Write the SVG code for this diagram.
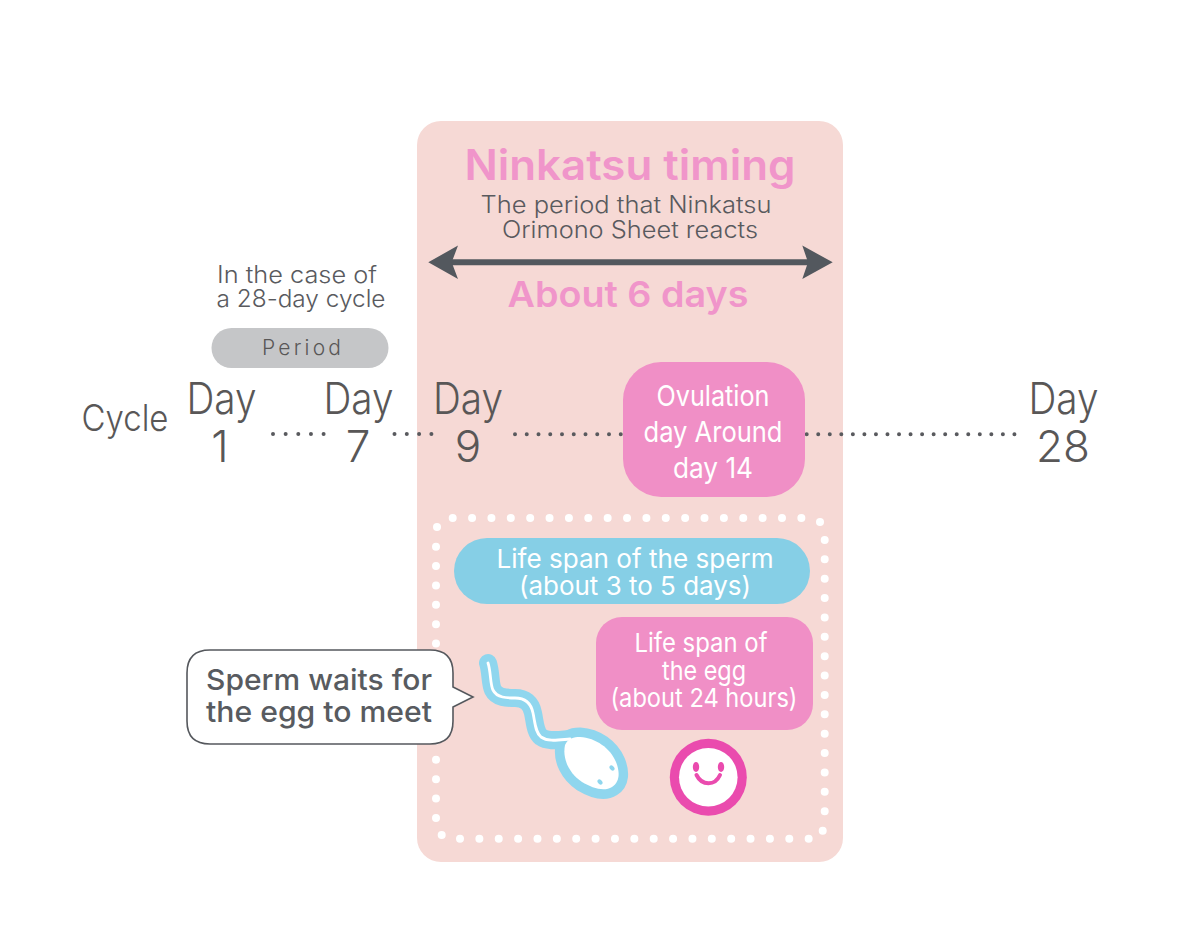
<svg xmlns="http://www.w3.org/2000/svg" width="1198" height="947" viewBox="0 0 1198 947">
<style>
text{font-family:Inter,"Noto Sans","Liberation Sans",sans-serif;text-anchor:middle}
.d{font-size:44px;fill:#595757;font-weight:300}
.g{font-size:23.500px;fill:#595a5e;font-weight:300}
.h{fill:#f095ca;font-weight:600}
.w{fill:#fff;font-size:29px;font-weight:400}
.s{fill:#fff;font-size:26px;font-weight:400}
.b{fill:#585b60;font-size:29px;font-weight:500}
.dots{fill:none;stroke:#595a5e;stroke-width:4;stroke-linecap:round}
.wd{fill:none;stroke:#fff;stroke-width:8;stroke-linecap:round;stroke-dasharray:0 19.37}
</style>
<rect width="1198" height="947" fill="#fff"/>
<g id="panel"><rect x="417" y="121" width="426" height="741" rx="24" fill="#f6d9d5"/></g>
<g id="title">
<text x="630" y="180" font-size="42" class="h" textLength="331" lengthAdjust="spacingAndGlyphs">Ninkatsu timing</text>
<text x="626" y="213" class="g" font-size="24" textLength="291" lengthAdjust="spacingAndGlyphs">The period that Ninkatsu</text>
<text x="630" y="238" class="g" font-size="24" textLength="256" lengthAdjust="spacingAndGlyphs">Orimono Sheet reacts</text>
<text x="628" y="307" font-size="36" class="h" textLength="241" lengthAdjust="spacingAndGlyphs">About 6 days</text>
</g>
<g id="connectors">
<path d="M448 262.300H812" stroke="#53585e" stroke-width="6" fill="none"/>
<path d="M428.300 262.300L458 245.500L451.700 262.300L458 279Z" fill="#53585e"/>
<path d="M832.700 262.300L802.300 245.500L808 262.300L802.300 279Z" fill="#53585e"/>
<path class="dots" stroke-dasharray="0 12.65" d="M273 434H325"/>
<path class="dots" stroke-dasharray="0 12.3" d="M394.500 434H432"/>
<path class="dots" stroke-dasharray="0 11.75" d="M515 434.300H626"/>
<path class="dots" stroke-dasharray="0 11.54" d="M806.700 434.300H1016"/>
</g>
<g id="case-note">
<text x="297" y="283" class="g" textLength="160" lengthAdjust="spacingAndGlyphs">In the case of</text>
<text x="301" y="307" class="g" textLength="169" lengthAdjust="spacingAndGlyphs">a 28-day cycle</text>
</g>
<g id="period"><rect x="211.500" y="328" width="177" height="40" rx="20" fill="#c5c6c8"/>
<text x="301.500" y="355" font-size="21" font-weight="300" fill="#595757" textLength="79" lengthAdjust="spacing">Period</text></g>
<g id="cycle"><text x="125" y="431" font-size="37" fill="#595757" font-weight="300" textLength="87" lengthAdjust="spacingAndGlyphs">Cycle</text></g>
<g id="day1"><text x="221.500" y="414" class="d" textLength="70" lengthAdjust="spacingAndGlyphs">Day</text><text x="220" y="462" class="d">1</text></g>
<g id="day7"><text x="358.500" y="414" class="d" textLength="70" lengthAdjust="spacingAndGlyphs">Day</text><text x="358" y="462" class="d">7</text></g>
<g id="day9"><text x="468" y="414" class="d" textLength="70" lengthAdjust="spacingAndGlyphs">Day</text><text x="468" y="462" class="d">9</text></g>
<g id="day28"><text x="1063.500" y="414" class="d" textLength="70" lengthAdjust="spacingAndGlyphs">Day</text><text x="1063" y="462" class="d">28</text></g>
<g id="ovulation"><rect x="623" y="362" width="182" height="135" rx="38" fill="#f08fc6"/>
<text x="713" y="406" class="w" textLength="113" lengthAdjust="spacingAndGlyphs">Ovulation</text>
<text x="713" y="442" class="w" textLength="139" lengthAdjust="spacingAndGlyphs">day Around</text>
<text x="713" y="478" class="w" textLength="80" lengthAdjust="spacingAndGlyphs">day 14</text></g>
<g id="dotted-frame">
<path class="wd" d="M452.700 518H805"/>
<path class="wd" d="M460 838.700H812"/>
<path class="wd" d="M436 546.700V820"/>
<path class="wd" d="M824.700 540V815"/>
<circle cx="437" cy="527" r="4" fill="#fff"/><circle cx="820" cy="522" r="4" fill="#fff"/><circle cx="822.700" cy="830.700" r="4" fill="#fff"/><circle cx="441.700" cy="835" r="4" fill="#fff"/>
</g>
<g id="sperm-span"><rect x="454" y="538" width="356" height="66" rx="33" fill="#86cfe6"/>
<text x="635" y="568" class="s" textLength="277" lengthAdjust="spacingAndGlyphs">Life span of the sperm</text>
<text x="635" y="595" class="s" textLength="232" lengthAdjust="spacingAndGlyphs">(about 3 to 5 days)</text></g>
<g id="egg-span"><rect x="596" y="617" width="217" height="113" rx="26" fill="#f08fc6"/>
<text x="701" y="652" class="s" textLength="133" lengthAdjust="spacingAndGlyphs">Life span of</text>
<text x="704" y="680" class="s" textLength="84" lengthAdjust="spacingAndGlyphs">the egg</text>
<text x="704" y="707" class="s" textLength="187" lengthAdjust="spacingAndGlyphs">(about 24 hours)</text></g>
<g id="callout"><path d="M210 650H430Q453 650 453 673V687L473 697L453 707V721Q453 744 430 744H210Q187 744 187 721V673Q187 650 210 650Z" fill="#fff" stroke="#55585d" stroke-width="1.600"/>
<text x="319" y="690" class="b" textLength="226" lengthAdjust="spacingAndGlyphs">Sperm waits for</text>
<text x="319" y="722" class="b" textLength="226" lengthAdjust="spacingAndGlyphs">the egg to meet</text></g>
<g id="sperm">
<path d="M488 663C491 672 490 684 493 690C497 698 507 698 515 698C525 698 531 703 533 713C535 722 535 732 541 737C548 742 558 740 570 739" fill="none" stroke="#8fd6ee" stroke-width="18" stroke-linecap="round" stroke-linejoin="round"/>
<path d="M565 745C568 738 574 737 580 737C596 738 610 748 616 762C620 772 620 782 612 787C604 792 592 788 582 782C570 774 562 760 565 745Z" fill="#8fd6ee" stroke="#8fd6ee" stroke-width="19" stroke-linejoin="round"/>
<path d="M488 663C491 672 490 684 493 690C497 698 507 698 515 698C525 698 531 703 533 713C535 722 535 732 541 737C548 742 558 740 570 739" fill="none" stroke="#fff" stroke-width="2.800" stroke-linecap="round"/>
<path d="M565 745C568 738 574 737 580 737C596 738 610 748 616 762C620 772 620 782 612 787C604 792 592 788 582 782C570 774 562 760 565 745Z" fill="#fff"/>
<ellipse cx="612" cy="768" rx="2" ry="3" transform="rotate(-45 612 768)" fill="#8fd6ee"/>
<ellipse cx="600" cy="782" rx="2" ry="3" transform="rotate(-45 600 782)" fill="#8fd6ee"/>
</g>
<g id="egg"><circle cx="708.300" cy="777.300" r="38.500" fill="#ea4bae"/><circle cx="708.300" cy="777.300" r="29.300" fill="#fff"/>
<ellipse cx="696" cy="767" rx="3.200" ry="5" fill="#ea4bae"/><ellipse cx="721" cy="767" rx="3.200" ry="5" fill="#ea4bae"/>
<path d="M696.500 775C702 786 715 786 720 775" fill="none" stroke="#ea4bae" stroke-width="4" stroke-linecap="round"/></g>
</svg>
